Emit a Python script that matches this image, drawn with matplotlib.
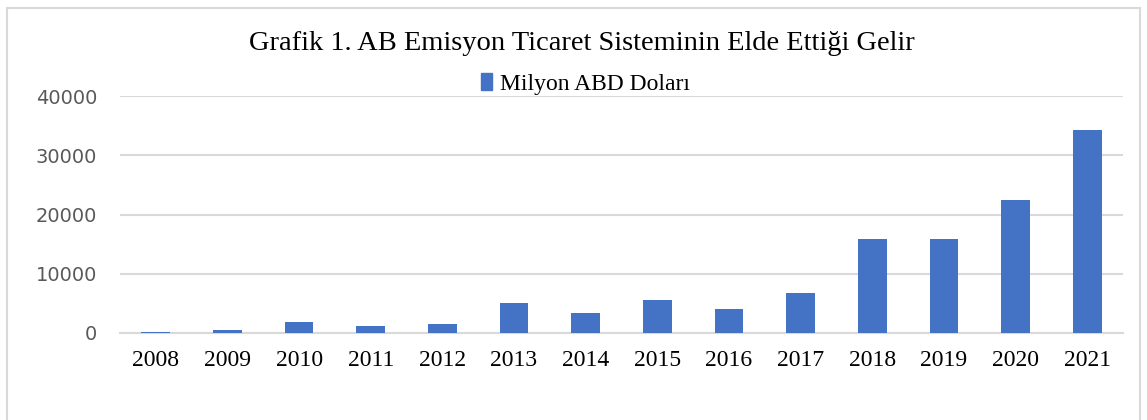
import matplotlib
matplotlib.use("Agg")
import matplotlib.pyplot as plt
from matplotlib.patches import Rectangle, Patch

# Milyon ABD Doları
years = ["2008", "2009", "2010", "2011", "2012", "2013", "2014",
         "2015", "2016", "2017", "2018", "2019", "2020", "2021"]
revenue = [100, 450, 1850, 1240, 1580, 4990, 3310,
           5610, 4100, 6790, 15870, 15920, 22420, 34190]
yticks = [0, 10000, 20000, 30000, 40000]

title = "Grafik 1. AB Emisyon Ticaret Sisteminin Elde Ettiği Gelir"
series_name = "Milyon ABD Doları"

bar_color = "#4472C4"
grid_color = "#D9D9D9"
tick_color = "#595959"

fig = plt.figure(figsize=(11.47, 4.2), dpi=100)
ax = fig.add_axes([120 / 1147, 87 / 420, 1003 / 1147, 237 / 420])

x = range(len(years))
ax.bar(x, revenue, width=0.4, color=bar_color, zorder=3)

ax.set_xlim(-0.5, len(years) - 0.5)
ax.set_ylim(0, 40000)
ax.set_yticks(yticks)
ax.set_yticklabels([str(v) for v in yticks], fontsize=14,
                   color=tick_color, family="DejaVu Sans")
ax.set_xticks(list(x))
ax.set_xticklabels(years, fontsize=17, family="Liberation Serif")
ax.tick_params(axis="both", length=0)
ax.tick_params(axis="y", pad=16.5)
ax.tick_params(axis="x", pad=12)
ax.grid(axis="y", color=grid_color, linewidth=1.5, zorder=0)
for side in ["top", "right", "left"]:
    ax.spines[side].set_visible(False)
ax.spines["bottom"].set_color(grid_color)
ax.spines["bottom"].set_linewidth(1.5)

fig.text(582 / 1147, 1 - 43 / 420, title, ha="center", va="center",
         fontsize=20.5, family="Liberation Serif")

handle = Patch(color=bar_color)
fig.legend([handle], [series_name], loc="center", bbox_to_anchor=(585 / 1147, 1 - 84 / 420),
           frameon=False, prop={"family": "Liberation Serif", "size": 17},
           handlelength=0.5, handleheight=0.7, handletextpad=0.3)

# outer chart border
fig.patches.append(Rectangle((7 / 1147, -0.1), 1133 / 1147, 1.1 - 8 / 420,
                             transform=fig.transFigure, fill=False,
                             edgecolor=grid_color, linewidth=1.5))

fig.savefig("out.png", dpi=100)
